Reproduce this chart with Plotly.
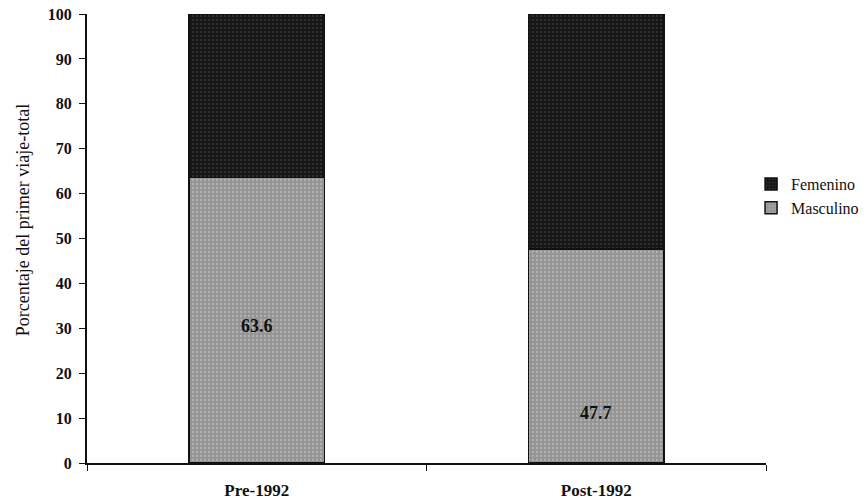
import plotly.graph_objects as go

categories = ["Pre-1992", "Post-1992"]
masculino = [63.6, 47.7]
femenino = [36.4, 52.3]
label_text = ["63.6", "47.7"]
label_y = [30.5, 11.2]
yticks = list(range(0, 101, 10))
y_title = "Porcentaje del primer viaje-total"

font_family = "Liberation Serif"

fig = go.Figure()
fig.add_trace(go.Bar(
    x=categories, y=masculino, name="Masculino", width=0.4,
    marker=dict(color="#9c9c9c", line=dict(color="#111111", width=1.5),
                pattern=dict(shape=".", fgcolor="#d0d0d0", bgcolor="#949494", size=4, solidity=0.25)),
))
fig.add_trace(go.Bar(
    x=categories, y=femenino, name="Femenino", width=0.4,
    marker=dict(color="#1a1a1a", line=dict(color="#111111", width=1.5),
                pattern=dict(shape=".", fgcolor="#555555", bgcolor="#161616", size=4, solidity=0.2)),
))

for c, t, yv in zip(categories, label_text, label_y):
    fig.add_annotation(x=c, y=yv, text="<b>" + t + "</b>", showarrow=False,
                       font=dict(family=font_family, size=18, color="#111111"))

fig.add_annotation(xref="paper", yref="paper", x=-0.094, y=0.541, text=y_title,
                   textangle=-90, showarrow=False, xanchor="center", yanchor="middle",
                   font=dict(family=font_family, size=18, color="#111111"))

fig.update_layout(
    barmode="stack",
    width=868, height=503,
    margin=dict(l=87, r=102, t=14, b=40, autoexpand=False),
    paper_bgcolor="white", plot_bgcolor="white",
    font=dict(family=font_family, size=13, color="#111111"),
    showlegend=True,
    legend=dict(x=0.978, y=0.659, xanchor="left", yanchor="top", traceorder="reversed",
                font=dict(family=font_family, size=16, color="#111111"),
                itemwidth=30, tracegroupgap=0, bgcolor="rgba(0,0,0,0)"),
    xaxis=dict(range=[-0.5, 1.5], showline=True, linecolor="#111111", linewidth=2,
               ticks="outside", tickson="boundaries", ticklen=6, tickcolor="#111111",
               tickfont=dict(family=font_family, size=17, color="#111111", weight="bold"),
               ticklabelstandoff=11, showgrid=False, zeroline=False),
    yaxis=dict(range=[0, 100], tickvals=yticks, showline=True, linecolor="#111111", linewidth=2,
               ticks="outside", ticklen=6, tickcolor="#111111",
               tickfont=dict(family=font_family, size=16, color="#111111", weight="bold"),
               ticklabelstandoff=4, showgrid=False, zeroline=False),
)

fig.write_html("out.html")
